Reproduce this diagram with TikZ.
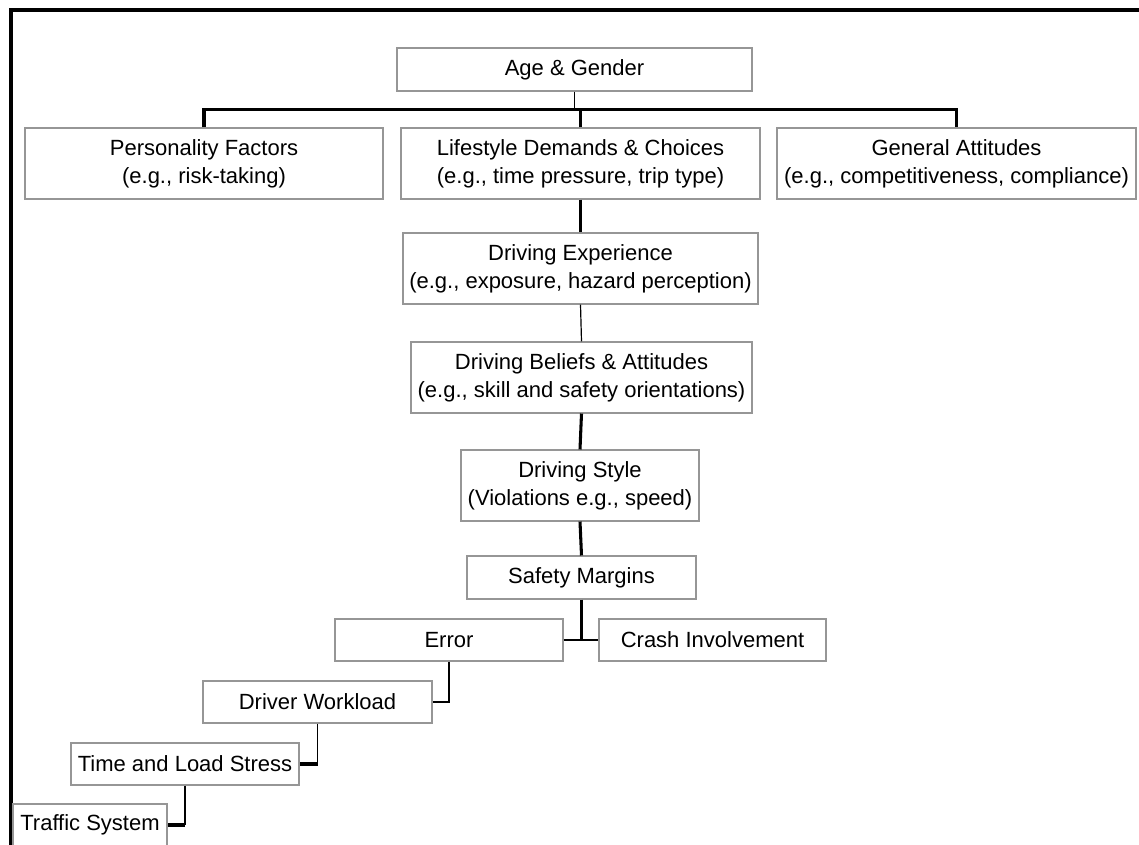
\documentclass[tikz,border=0pt]{standalone}
\usepackage{fontspec}
\setmainfont{Liberation Sans}
\definecolor{boxgray}{RGB}{150,150,150}
\begin{document}
\begin{tikzpicture}[x=0.75pt,y=-0.75pt,
  bx/.style 2 args={draw=boxgray, line width=0.8pt, fill=white, inner sep=0pt,
     minimum width=#1*0.75pt, minimum height=#2*0.75pt, align=center,
     font=\fontsize{16.5}{21}\selectfont},
  thinln/.style={line width=0.9pt, black},
  thickln/.style={line width=2.3pt, black},
  frameln/.style={line width=2.7pt, black}]
\useasboundingbox (0,0) rectangle (1139,845);
% frame
\coordinate (fTL) at (11,10);
\coordinate (fTR) at (1139,10);
\coordinate (fBL) at (11,845);
\draw[frameln] (fTR) -- (fTL) -- (fBL);
% nodes
\node[bx={355}{43}] (age) at (574.5,69.5) {Age \& Gender};
\node[bx={358}{71}] (pers) at (204,163.5) {Personality Factors\\(e.g., risk-taking)};
\node[bx={359}{71}] (life) at (580.5,163.5) {Lifestyle Demands \& Choices\\(e.g., time pressure, trip type)};
\node[bx={359}{71}] (gen) at (956.5,163.5) {General Attitudes\\(e.g., competitiveness, compliance)};
\node[bx={355}{71}] (exp) at (580.5,268.5) {Driving Experience\\(e.g., exposure, hazard perception)};
\node[bx={341}{71}] (bel) at (581.5,377.5) {Driving Beliefs \& Attitudes\\(e.g., skill and safety orientations)};
\node[bx={238}{71}] (sty) at (580,485.5) {Driving Style\\(Violations e.g., speed)};
\node[bx={229}{43}] (saf) at (581.5,577.5) {Safety Margins};
\node[bx={228}{42}] (err) at (449,640) {Error};
\node[bx={227}{42}] (cra) at (712.5,640) {Crash Involvement};
\node[bx={229}{42}] (wl) at (317.5,702) {Driver Workload};
\node[bx={228}{42}] (tls) at (185,764) {Time and Load Stress};
\node[bx={154}{42}] (ts) at (90,825) {Traffic System};
% bus
\coordinate (bus) at (575,109.3);
\draw[thinln] (age.south) -- (age.south |- bus);
\draw[thickln] (pers.north) -- (pers.north |- bus) -- (gen.north |- bus) -- (gen.north);
\draw[thickln] (life.north) -- (life.north |- bus);
% chain
\draw[thickln] (life.south) -- (exp.north);
\draw[thinln] (exp.south) -- (bel.north);
\draw[thickln] (bel.south) -- (sty.north);
\draw[thickln] (sty.south) -- (saf.north);
\draw[thickln] (saf.south) -- (saf.south |- err.east);
\draw[thinln] (err.east) -- (cra.west);
\draw[thinln] (err.south) |- (wl.east);
\coordinate (c1) at (wl.south |- tls.east);
\draw[thinln] (wl.south) -- (c1);
\draw[thickln] (c1) -- (tls.east);
\coordinate (c2) at (tls.south |- ts.east);
\draw[thinln] (tls.south) -- (c2);
\draw[thickln] (c2) -- (ts.east);
\end{tikzpicture}
\end{document}
